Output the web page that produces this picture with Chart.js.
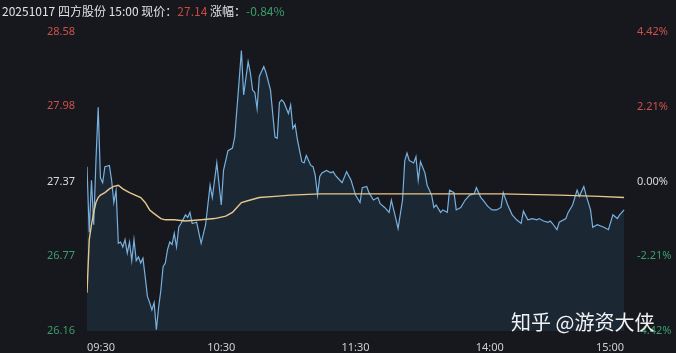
<!DOCTYPE html>
<html>
<head>
<meta charset="utf-8">
<script src="https://cdn.jsdelivr.net/npm/chart.js@4/dist/chart.umd.min.js"></script>
<style>
    body { margin: 0; background: #16181e; }
    #wrap { position: relative; width: 676px; height: 353px; overflow: hidden; }
    #header {
        position: absolute; left: 2px; top: 2px;
        font: 12px "Noto Sans CJK SC", "Noto Sans", sans-serif;
        color: #e2e2e2; white-space: nowrap;
    }
    #header .up { color: #c8473f; }
    #header .down { color: #3c9d6c; }
    #mark {
        position: absolute; left: 511px; top: 307px;
        font: 20px "Noto Sans CJK SC", sans-serif;
        color: #f2f2f2; white-space: nowrap;
    }
</style>
</head>
<body>
<div id="wrap">
    <canvas id="chart" width="676" height="353"></canvas>
    <div id="header">20251017 四方股份 15:00 现价：<span class="up">27.14</span> 涨幅：<span class="down">-0.84%</span></div>
    <div id="mark">知乎 @游资大侠</div>
</div>
<script>
// minutes since 09:30 (lunch break removed, 240 = 15:00)
const minutes = [0, 1, 2, 3, 4, 5, 6, 7, 8, 10, 11, 12, 13, 14, 15, 16, 17, 18, 19, 20,
    21, 22, 23, 24, 25, 26, 27, 28, 29, 30, 31, 32, 33, 34, 35, 36, 37, 38, 39, 40,
    41, 42, 44, 45, 46, 47, 49, 51, 53, 55, 56, 58, 60, 61, 63, 65, 66, 68, 69, 70,
    72, 73, 74, 75, 76, 77, 79, 80, 82, 84, 85, 86, 87, 88, 90, 91, 92, 93, 94, 96,
    97, 98, 100, 101, 102, 103, 104, 105, 107, 109, 110, 111, 113, 114, 116, 118, 120, 122, 123, 125,
    126, 128, 130, 131, 133, 135, 136, 138, 139, 141, 142, 143, 144, 146, 147, 148, 149, 151, 152, 154,
    155, 156, 158, 159, 161, 162, 164, 165, 167, 169, 171, 173, 174, 176, 177, 179, 181, 183, 185, 186,
    188, 190, 192, 194, 195, 197, 199, 201, 202, 204, 206, 207, 208, 210, 211, 214, 215, 217, 219, 220,
    222, 223, 225, 226, 228, 231, 233, 235, 237, 238, 240];
const prices = [27.49, 26.96, 27.38, 27.02, 27.54, 27.97, 27.40, 27.36, 27.49, 27.50, 27.38, 27.20, 27.30, 26.87, 26.88, 26.84, 26.90, 26.79, 26.88, 26.73,
    26.90, 26.73, 26.76, 26.71, 26.75, 26.60, 26.44, 26.39, 26.33, 26.39, 26.17, 26.35, 26.49, 26.68, 26.71, 26.82, 26.88, 26.86, 26.95, 26.84,
    27.00, 27.03, 27.10, 27.08, 27.12, 27.03, 27.04, 26.87, 27.02, 27.34, 27.24, 27.52, 27.18, 27.46, 27.62, 27.64, 27.73, 28.19, 28.43, 28.07,
    28.34, 28.25, 28.11, 28.09, 27.96, 28.22, 28.30, 28.25, 28.11, 27.73, 27.72, 28.01, 28.03, 28.01, 27.92, 27.99, 27.80, 27.83, 27.71, 27.53,
    27.52, 27.58, 27.50, 27.49, 27.42, 27.26, 27.41, 27.44, 27.46, 27.44, 27.45, 27.42, 27.38, 27.36, 27.45, 27.38, 27.26, 27.20, 27.32, 27.33,
    27.28, 27.22, 27.24, 27.19, 27.16, 27.12, 27.22, 27.07, 26.99, 27.22, 27.54, 27.60, 27.54, 27.52, 27.57, 27.38, 27.53, 27.44, 27.34, 27.26,
    27.16, 27.18, 27.12, 27.14, 27.12, 27.30, 27.28, 27.14, 27.16, 27.22, 27.26, 27.27, 27.32, 27.24, 27.22, 27.17, 27.14, 27.14, 27.16, 27.28,
    27.18, 27.10, 27.06, 27.03, 27.13, 27.06, 27.07, 27.06, 27.07, 27.05, 27.04, 27.05, 27.03, 26.98, 27.04, 27.07, 27.12, 27.18, 27.30, 27.25,
    27.33, 27.26, 27.14, 27.00, 27.02, 27.00, 26.98, 27.10, 27.07, 27.10, 27.14];

// average price line
const avgMinutes = [0, 1, 2, 3, 4, 5, 6, 8, 10, 12, 14, 16, 19, 24, 26, 28, 30, 33, 35, 39,
    44, 51, 57, 62, 65, 67, 69, 73, 77, 84, 91, 104, 140, 185, 211, 229, 240];
const avgPrices = [26.47, 26.90, 27.02, 27.12, 27.20, 27.24, 27.26, 27.28, 27.31, 27.33, 27.34, 27.31, 27.28, 27.24, 27.20, 27.14, 27.11, 27.07, 27.06, 27.06,
    27.05, 27.06, 27.07, 27.09, 27.12, 27.16, 27.20, 27.22, 27.24, 27.25, 27.26, 27.27, 27.27, 27.27, 27.26, 27.25, 27.24];

const timeTicks = [0, 60, 120, 180, 240];
const timeLabels = ['09:30', '10:30', '11:30', '14:00', '15:00'];
const priceTicks = [26.16, 26.77, 27.37, 27.98, 28.58];
const pctTicks = [-4.42, -2.21, 0, 2.21, 4.42];

const RED = '#cf5049';
const GREEN = '#3c9d6c';
const WHITE = '#d8d8d8';
const PREV_CLOSE = 27.37;

function priceColor(v) {
    if (Math.abs(v - PREV_CLOSE) < 1e-6) return WHITE;
    return v > PREV_CLOSE ? RED : GREEN;
}

const priceData = minutes.map((m, i) => ({ x: m, y: prices[i] }));
const avgData = avgMinutes.map((m, i) => ({ x: m, y: avgPrices[i] }));

new Chart(document.getElementById('chart'), {
    type: 'line',
    data: {
        datasets: [{
            label: 'avg',
            data: avgData,
            borderColor: '#e6c88e',
            borderWidth: 1.4,
            pointRadius: 0,
            fill: false,
            order: 1
        }, {
            label: 'price',
            data: priceData,
            borderColor: '#78b0de',
            backgroundColor: '#1c2734',
            borderWidth: 1.2,
            pointRadius: 0,
            fill: 'start',
            order: 2
        }]
    },
    options: {
        responsive: false,
        animation: false,
        devicePixelRatio: 1,
        layout: { padding: { top: 32, left: 0, right: 0, bottom: 0 } },
        plugins: { legend: { display: false }, tooltip: { enabled: false } },
        scales: {
            x: {
                type: 'linear',
                min: 0,
                max: 241.3,
                grid: { display: false },
                border: { display: false },
                afterBuildTicks: axis => { axis.ticks = timeTicks.map(v => ({ value: v })); },
                afterFit: axis => { axis.height = 22; },
                ticks: {
                    align: 'inner',
                    maxRotation: 0,
                    padding: 2,
                    color: '#cfcfcf',
                    font: { family: 'Noto Sans', size: 11 },
                    callback: v => timeLabels[timeTicks.indexOf(v)]
                }
            },
            y: {
                position: 'left',
                min: 26.16,
                max: 28.58,
                grid: { display: false },
                border: { display: false },
                afterBuildTicks: axis => { axis.ticks = priceTicks.map(v => ({ value: v })); },
                afterFit: axis => { axis.width = 87; },
                ticks: {
                    padding: 4,
                    font: { family: 'Noto Sans', size: 11 },
                    color: ctx => priceColor(ctx.tick.value),
                    callback: v => v.toFixed(2)
                }
            },
            pct: {
                position: 'right',
                min: -4.42,
                max: 4.42,
                grid: { display: false },
                border: { display: false },
                afterBuildTicks: axis => { axis.ticks = pctTicks.map(v => ({ value: v })); },
                afterFit: axis => { axis.width = 49; },
                ticks: {
                    padding: 2,
                    font: { family: 'Noto Sans', size: 11 },
                    color: ctx => ctx.tick.value === 0 ? WHITE : (ctx.tick.value > 0 ? RED : GREEN),
                    callback: v => v.toFixed(2) + '%'
                }
            }
        }
    }
});
</script>
</body>
</html>
